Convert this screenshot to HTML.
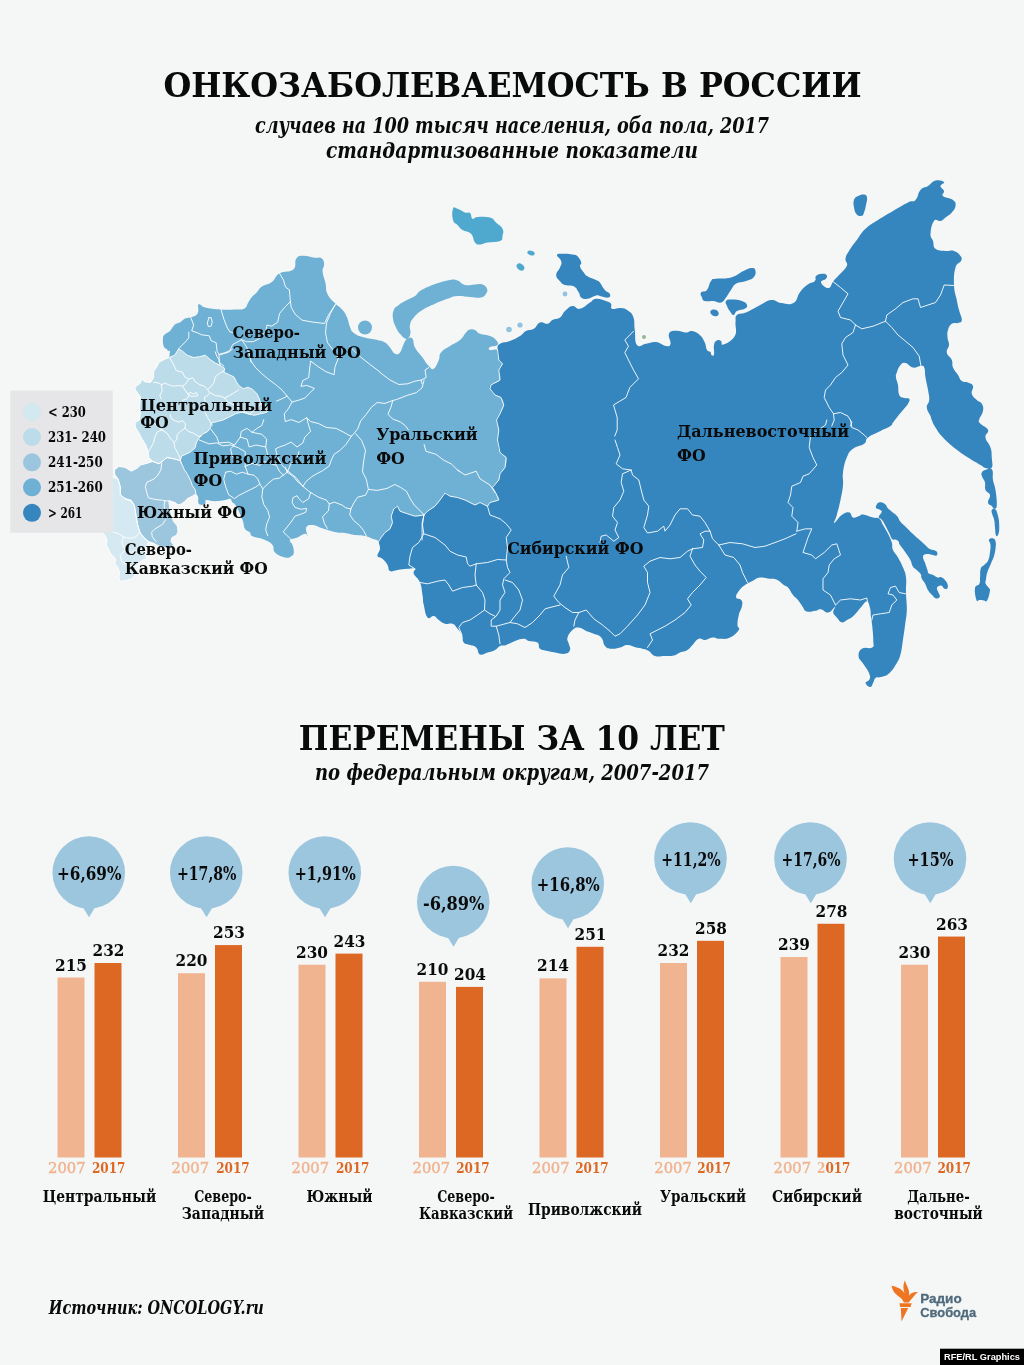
<!DOCTYPE html>
<html lang="ru"><head><meta charset="utf-8"><title>Онкозаболеваемость в России</title>
<style>html,body{margin:0;padding:0;background:#f5f7f7}svg{display:block}text{font-family:'DejaVu Serif Condensed','DejaVu Serif','Liberation Serif',serif}.b{font-weight:bold}.i{font-style:italic;font-weight:bold}.lab{font-weight:bold;font-size:17.5px;fill:#0a0a0a}.val{font-weight:bold;font-size:17px;fill:#0a0a0a;text-anchor:middle}.pct{font-weight:bold;font-size:19px;fill:#0a0a0a;text-anchor:middle}.yr{font-size:14px;text-anchor:middle}.dl{font-weight:bold;font-size:16px;fill:#0a0a0a;text-anchor:middle}.lg{font-weight:bold;font-size:14px;fill:#0a0a0a}.sans{font-family:'Liberation Sans',sans-serif;font-weight:bold}.t{font-family:'DejaVu Serif','Liberation Serif',serif;font-weight:bold}</style></head><body>
<svg width="1024" height="1365" viewBox="0 0 1024 1365">
<rect width="1024" height="1365" fill="#f5f7f7"/>
<text class="t" x="512.5" y="97" font-size="33.5" text-anchor="middle" fill="#0a0a0a" textLength="698" lengthAdjust="spacingAndGlyphs">ОНКОЗАБОЛЕВАЕМОСТЬ В РОССИИ</text>
<text class="i" x="512" y="132.5" font-size="22.5" text-anchor="middle" fill="#0a0a0a" textLength="514" lengthAdjust="spacingAndGlyphs">случаев на 100 тысяч населения, оба пола, 2017</text>
<text class="i" x="512" y="158" font-size="22.5" text-anchor="middle" fill="#0a0a0a" textLength="372" lengthAdjust="spacingAndGlyphs">стандартизованные показатели</text>
<g stroke-linejoin="round">
<path fill="#6fb1d4" d="M169.2,357.5 C171,345.9 169,353 167.7,350.5 C166.4,348 164.8,349.3 163.8,346.6 C162.7,343.9 162.8,341.5 163,338.8 C163.2,336 162.9,336.6 164.5,334.8 C166.1,333 167.6,333.4 170,331 C172.4,328.6 172.3,326.7 174.7,324.7 C177.1,322.7 177.8,323.7 180.2,322.3 C182.6,320.9 182.6,319.7 185,318.5 C187.4,317.3 187.8,318.5 190.7,317.3 C193.6,316.1 195.8,316.3 197.6,313.4 C199.3,310.5 197.5,307 198.2,305 C198.9,303 198.8,304.2 200.5,304.8 C202.2,305.4 200.6,306.4 205.4,307.5 C210.2,308.6 213.9,309 221,309.5 C228.1,310 230.5,309.7 236,309.5 C241.5,309.3 241.7,310 244.5,308.5 C247.3,307 246.4,305.5 248,303 C249.6,300.5 249.2,300.3 251.3,297.7 C253.4,295.1 254.6,294.5 257.1,291.9 C259.6,289.3 258.6,288.8 262,286.5 C265.4,284.2 267.7,285.2 271.8,282.1 C275.9,279 274.6,276.3 279.6,273.3 C284.6,270.3 289.4,272.8 293.3,269.4 C297.2,266 293.9,261.9 296.2,258.7 C298.5,255.5 298.7,255.9 303,255.7 C307.3,255.5 310.5,257.1 314.8,257.7 C319.1,258.3 319.4,256.6 321.6,258.2 C323.8,259.8 323.9,261.4 324.1,264.5 C324.3,267.6 322.3,267.1 322.6,271.4 C322.9,275.7 324.4,277.8 325.5,283.1 C326.6,288.4 325.2,289.2 327.5,294 C329.8,298.8 331.9,300 335.3,303.6 C338.7,307.2 339.4,306.3 342.1,309.5 C344.8,312.7 345.2,313.2 347,317.3 C348.8,321.4 348.4,323.4 350,327 C351.6,330.6 350.6,330.5 353.8,332.9 C357,335.3 358.1,335.6 363.6,337.3 C369.1,339 372.5,338.8 377.5,340 C382.5,341.2 382.1,340.8 385,342.5 C387.9,344.2 387.7,344.9 390,347.5 C392.3,350.1 392.7,352.6 395,353.8 C397.3,354.9 398,354.8 400,352.5 C402,350.2 402,347 403.8,343.8 C405.5,340.5 405.5,339.9 407.5,338.8 C409.5,337.6 410.8,336.7 412.5,338.8 C414.2,340.8 412.7,343.1 415,347.5 C417.3,351.9 419.3,353.2 422.5,357.5 C425.7,361.8 426.1,363.4 428.8,366 C431.4,368.6 431.4,370.1 433.8,368.8 C436.1,367.4 437.1,363.8 438.8,360 C440.4,356.2 438.4,355.8 441,352.5 C443.6,349.2 445.6,348.9 450,346 C454.4,343.1 456.3,343.1 460,340 C463.7,336.9 463.7,334.9 466,332.5 C468.3,330.1 467.9,330.1 470,329.5 C472.1,328.9 472.7,329 475,330 C477.3,331 476.5,332.4 480,333.8 C483.5,335.1 486.3,334.5 490,336 C493.7,337.5 494.2,337.9 496,340 C497.8,342.1 498.9,343.4 497.5,345 C496.1,346.6 491.8,345.8 490,347 C488.2,348.2 488.2,349.4 490,350 C491.8,350.6 493.8,349 497.5,349.5 C501.2,350 501.9,335.6 506,352 C510.1,368.4 512.9,386.6 515,420 C517.1,453.4 530.2,472.8 515,495 C499.8,517.2 474.5,506.8 450,515 C425.5,523.2 422.8,523 410,530 C397.2,537 401.3,541.3 395,545 C388.7,548.7 386.8,546.9 383,546 C379.2,545.1 381.2,542.9 378.8,541.2 C376.3,539.6 375.7,540 372.5,538.8 C369.3,537.5 369.1,536.9 365,536 C360.9,535.1 359.7,535.7 355,535 C350.3,534.3 349.1,533.6 345,533 C340.9,532.4 341.6,533.2 337.5,532.5 C333.4,531.8 331.6,531.2 327.5,530 C323.4,528.8 323.5,528.7 320,527.5 C316.5,526.3 315.7,525 312.5,525 C309.3,525 307.4,524.9 306.2,527.5 C305.1,530.1 307.8,534.8 307.5,536.2 C307.2,537.7 307.3,533.5 305,533.8 C302.7,534 301,536 297.5,537.5 C294,539 291.2,538.2 290,540 C288.8,541.8 291.6,542.1 292.5,545 C293.4,547.9 294,549.9 293.8,552.5 C293.5,555.1 293.3,555.1 291.2,556.2 C289.2,557.4 288.8,558.4 285,557.5 C281.2,556.6 277.9,555.4 275,552.5 C272.1,549.6 274.8,547.9 272.5,545 C270.2,542.1 269.7,542 265,540 C260.3,538 256,538 252.5,536.2 C249,534.5 251.8,534.2 250,532.5 C248.2,530.8 246.8,531.7 245,528.8 C243.2,525.8 244.5,525.2 242.5,520 C240.5,514.8 238.6,510.3 236.2,506.2 C233.9,502.2 234,504.2 232.5,502.5 C231,500.8 231.8,499.3 230,498.8 C228.2,498.2 228.5,499.4 225,500 C221.5,500.6 219.4,501.2 215,501.2 C210.6,501.2 208.6,499.4 206.2,500 C203.9,500.6 206.8,502.9 205,503.8 C203.2,504.6 200.8,506 198.8,503.8 C196.7,501.5 200.4,497.2 196,494 C191.6,490.8 186.5,495.6 180,490 C173.5,484.4 172.7,481.7 168,470 C163.3,458.3 161.9,456.3 160,440 C158.1,423.7 157.9,419.2 160,400 C162.1,380.8 167.4,369.1 169.2,357.5Z"/>
<path fill="#3585be" d="M497.5,349.5 C497.8,345.7 497.1,345.7 500,343.8 C502.9,341.8 505.3,342.8 510,341 C514.7,339.2 516.3,338.3 520,336 C523.7,333.7 522.8,332.7 526,331 C529.2,329.3 530.5,330.7 533.8,328.8 C537,326.8 536.8,323.7 540,322.5 C543.2,321.3 544.6,324.3 547.5,323.8 C550.4,323.2 549.6,321.5 552.5,320 C555.4,318.5 557.1,319.6 560,317.5 C562.9,315.4 562.1,313.7 565,311 C567.9,308.3 569,306.5 572.5,306 C576,305.5 575.9,309.6 580,308.8 C584.1,307.9 586.3,304.8 590,302.5 C593.7,300.2 592.3,299.1 596,298.8 C599.7,298.4 602.5,299.8 606,301 C609.5,302.2 609.6,301.9 611,303.8 C612.4,305.6 609.7,307.8 612,308.8 C614.3,309.7 617.1,307.5 621,308 C624.9,308.5 625.6,308.8 628.5,311 C631.4,313.2 632,313.1 633.5,317.5 C635,321.9 633.9,323.6 634.8,330 C635.6,336.4 634.4,341.8 637,345 C639.6,348.2 641.6,344.4 646,343.8 C650.4,343.1 651.3,341.5 656,342 C660.7,342.5 662.6,345.6 666,346 C669.4,346.4 669.8,346.6 670.5,343.8 C671.2,340.9 667.7,336.8 669,333.8 C670.3,330.7 672,331 676,330.8 C680,330.5 682.3,332.4 686,332.5 C689.7,332.6 688.8,330.4 692,331 C695.2,331.6 696.8,332.3 699.8,335 C702.7,337.7 703.1,339 704.8,342.5 C706.4,346 705.7,347.8 707,350 C708.3,352.2 709.5,350.8 710.5,352 C711.5,353.2 710.7,354.4 711.5,355 C712.3,355.6 713.4,356.8 714,354.5 C714.6,352.2 713.3,348.3 714,345 C714.7,341.7 715.4,341.4 717,340.5 C718.6,339.6 719.5,340.1 721,341 C722.5,341.9 720.3,345.7 723.5,344.5 C726.7,343.3 732,341.1 734.8,336 C737.5,330.9 735,327.4 735.5,322.5 C736,317.6 734.5,317.3 737,315 C739.5,312.7 741,314.6 746,312.5 C751,310.4 752.7,308.9 758.5,306 C764.3,303.1 765.8,300.7 771,300 C776.2,299.3 775.8,302.3 781,303 C786.2,303.7 789.1,305.4 793.5,303 C797.9,300.6 796.6,296.7 799.8,292.5 C802.9,288.3 803.5,287.7 807,285 C810.5,282.3 812.6,283.1 814.8,281 C816.9,278.9 814.3,277.7 816,276 C817.7,274.3 819.5,274 822,273.8 C824.5,273.5 825.6,273.8 826.5,275 C827.4,276.2 827.3,277 826,278.8 C824.7,280.5 820.4,280.3 821,282.5 C821.6,284.7 825.6,288.4 828.5,288 C831.4,287.6 831,284 833.5,281 C836,278 835.9,278.5 839,275 C842.1,271.5 845.2,269.8 846.8,266 C848.3,262.2 845,262.2 845.5,258.8 C846,255.2 846.4,255.4 849,251 C851.6,246.6 852.9,245.2 856.8,240 C860.6,234.8 860.5,233.4 865.5,228.8 C870.5,224.1 871.6,224.1 878,220 C884.4,215.9 886,215.1 893,211 C900,206.9 902.8,205.1 908,202.5 C913.2,199.9 912.6,202.9 915.5,200 C918.4,197.1 917.6,193.3 920.5,190 C923.4,186.7 924.5,188.2 928,186 C931.5,183.8 931.8,181.4 935.5,180.5 C939.2,179.6 942.8,180.7 944,182 C945.2,183.3 940.5,183.9 940.5,186 C940.5,188.1 943.4,188.7 944,191 C944.6,193.3 940.9,193.9 943,196 C945.1,198.1 950.1,197.7 953,200 C955.9,202.3 955.8,203.1 955.5,206 C955.2,208.9 954.1,209.8 951.8,212.5 C949.4,215.2 948.1,215.5 945.5,217.5 C942.9,219.5 943.2,220.2 940.5,221 C937.8,221.8 936.3,218 934,221 C931.7,224 930.7,229.1 930.5,233.8 C930.3,238.4 931.8,237.5 933,241 C934.2,244.5 932.6,246.4 935.5,248.8 C938.4,251.1 941.2,250.5 945.5,251 C949.8,251.5 950.5,249.8 954,251 C957.5,252.2 958.9,253.7 960.5,256 C962.1,258.3 962.2,258.3 961,261 C959.8,263.7 957.1,261.9 955.5,267.5 C953.9,273.1 953.7,277.4 954,285 C954.3,292.6 955.6,294.2 956.8,300 C957.9,305.8 957.8,305.3 959,310 C960.2,314.7 962,317 961.8,320 C961.5,323 960.3,322.1 958,323 C955.7,323.9 954.1,322.1 951.8,323.8 C949.4,325.4 949,326.8 948,330 C947,333.2 947.3,334 947.5,337.5 C947.7,341 949.2,341.5 949,345 C948.8,348.5 946.1,349 946.8,352.5 C947.4,356 950.3,356.5 951.8,360 C953.2,363.5 951.5,364 953,367.5 C954.5,371 956,371.9 958,375 C960,378.1 959.4,379.2 961.8,381 C964.1,382.8 965.4,381.3 968,382.5 C970.6,383.7 972.1,383.4 973,386 C973.9,388.6 970.9,390.5 971.8,393.8 C972.6,397 974.4,397.7 976.8,400 C979.1,402.3 980.3,401.2 981.8,403.8 C983.2,406.3 983.6,407.2 983,411 C982.4,414.8 979.6,417 979,420 C978.4,423 978.4,421.4 980.5,423.8 C982.6,426.1 986.8,426.8 988,430 C989.2,433.2 984.9,433.4 985.5,437.5 C986.1,441.6 989,442.8 990.5,447.5 C992,452.2 991.5,452.8 991.8,457.5 C992,462.2 993.2,465.1 991.8,467.5 C990.3,469.9 988.1,468.6 985.5,468 C982.9,467.4 984.6,467.4 980.5,465 C976.4,462.6 973.8,461.3 968,457.5 C962.2,453.7 961.3,453.4 955.5,448.8 C949.7,444.1 947.7,442.5 943,437.5 C938.3,432.5 938.1,431.6 935.5,427.5 C932.9,423.4 932.9,422.7 931.8,420 C930.6,417.3 931.7,418.9 930.5,416 C929.3,413.1 927,411.2 926.8,407.5 C926.5,403.8 929,404.1 929.2,400 C929.5,395.9 928.9,395.2 928,390 C927.1,384.8 926.4,382.8 925.5,377.5 C924.6,372.2 925.4,370.2 924.2,367.5 C923.1,364.8 923.1,366 920.5,366 C917.9,366 916.5,368.2 913,367.5 C909.5,366.8 908.4,363.6 905.5,363 C902.6,362.4 902.5,362.8 900.5,365 C898.5,367.2 897.8,369.6 896.8,372.5 C895.7,375.4 895.7,374.6 896,377.5 C896.3,380.4 897.2,380.9 898,385 C898.8,389.1 897.8,392 899.2,395 C900.7,398 901.9,397.1 904.2,398 C906.6,398.9 908.4,397.4 909.2,398.8 C910.1,400.1 909.5,401.1 908,403.8 C906.5,406.4 905.3,407.1 903,410 C900.7,412.9 900.3,413.1 898,416 C895.7,418.9 894.8,420.2 893,422.5 C891.2,424.8 893.4,424 890.5,426 C887.6,428 885.8,428.3 880.5,431 C875.2,433.7 871.8,434.5 868,437.5 C864.2,440.5 867.8,441.1 864.2,443.8 C860.8,446.4 857.1,445.5 853,448.8 C848.9,452 849.1,452 846.8,457.5 C844.4,463 843.9,466.1 843,472.5 C842.1,478.9 843.6,478.6 843,485 C842.4,491.4 842,493 840.5,500 C839,507 838.2,509.6 836.8,515 C835.3,520.4 833.1,523 834.2,523 C835.4,523 838.2,517.5 841.8,515 C845.2,512.5 846.6,511.9 849.2,512.5 C851.9,513.1 850.7,516.7 853,517.5 C855.3,518.3 856.9,516.7 859.2,516 C861.6,515.3 859.8,514.1 863,514.5 C866.2,514.9 869.2,516.5 873,517.5 C876.8,518.5 876.9,517 879.2,518.8 C881.6,520.5 881,521.5 883,525 C885,528.5 886,529.7 888,533.8 C890,537.8 890.6,538.7 891.8,542.5 C892.9,546.3 891.5,546.5 893,550 C894.5,553.5 895.7,553.4 898,557.5 C900.3,561.6 901.1,562.8 903,567.5 C904.9,572.2 905.3,571.6 906,577.5 C906.7,583.4 905.8,585.1 906,592.8 C906.2,600.5 907,602.6 906.8,610.3 C906.5,618 905.9,618.4 905,625.6 C904.1,632.8 903.8,634.4 902.8,641 C901.8,647.6 902.1,648.6 900.6,654 C899.1,659.4 899,659.4 896.2,664 C893.5,668.6 892.2,670.7 888.6,673.8 C885,676.8 884.1,676 881,677 C877.9,678 877.3,676.7 875.5,678 C873.7,679.3 874.5,680.4 873.3,682.5 C872.1,684.6 872.2,686.9 870.4,687 C868.6,687.1 865.8,684.8 865.6,683 C865.4,681.2 868.8,681.6 869.6,679.2 C870.4,676.8 870.3,676.2 868.9,672.7 C867.5,669.2 865.8,667.8 863.4,664 C861,660.2 858.9,659.8 858.6,656.2 C858.3,652.7 859.1,650.6 862.3,648.6 C865.5,646.6 869.6,649.3 872.2,647.5 C874.8,645.7 873.3,646.1 873.3,641 C873.3,635.9 872.7,631.2 872.2,625.6 C871.7,620 871.5,621.1 871,617 C870.5,612.9 871,611.6 870,608 C869,604.4 868.7,601.8 866.7,601.6 C864.7,601.4 864.3,603.7 861.2,607 C858.2,610.3 856.9,612.8 853.6,615.8 C850.3,618.8 849.8,618.5 847,620 C844.2,621.5 843.9,622.8 841.6,622.3 C839.3,621.8 839.1,620.3 837.2,618 C835.3,615.7 833.8,615.1 833.2,612.5 C832.7,609.9 836.1,607 835,607 C833.9,607 831.7,612 828.4,612.5 C825.1,613 823.9,609.6 820.8,609.2 C817.7,608.8 818.6,610.2 815.3,610.8 C812,611.3 809.7,612.5 806.6,611.4 C803.5,610.3 804.2,608.7 802.2,606 C800.2,603.3 800.1,602.6 798,600 C795.9,597.4 795.3,597.9 793,595 C790.7,592.1 790.2,589.8 788,587.5 C785.8,585.2 786.2,586.8 783.8,585 C781.3,583.2 780.7,581.5 777.5,580 C774.3,578.5 774.1,579.3 770,578.8 C765.9,578.2 764.1,577 760,577.5 C755.9,578 756,579.2 752.5,581 C749,582.8 748.2,582.7 745,585 C741.8,587.3 740.8,588.1 738.8,591 C736.7,593.9 735.7,595.4 736.2,597.5 C736.8,599.6 739.9,598 741.2,600 C742.6,602 742.6,602.5 742,606 C741.4,609.5 739.8,610.6 738.8,615 C737.7,619.4 737.5,621.5 737.5,625 C737.5,628.5 740.5,627.1 738.8,630 C737,632.9 734.4,635.5 730,637.5 C725.6,639.5 724.1,638.8 720,638.8 C715.9,638.8 716,637.2 712.5,637.5 C709,637.8 708.2,639.7 705,640 C701.8,640.3 701.7,637.6 698.8,638.8 C695.8,639.9 695.1,642.4 692.5,645 C689.9,647.6 690.4,648.2 687.5,650 C684.6,651.8 683.2,651.2 680,652.5 C676.8,653.8 677.2,654.7 673.8,655.5 C670.2,656.3 669.4,655.9 665,656 C660.6,656.1 658.8,657.2 655,656 C651.2,654.8 651.7,652.7 648.8,651 C645.8,649.3 645.4,649.6 642.5,648.8 C639.6,647.9 639.8,648.4 636.2,647.5 C632.8,646.6 631.3,645 627.5,645 C623.7,645 623.8,646.6 620,647.5 C616.2,648.4 614.8,649.1 611.2,648.8 C607.8,648.4 607.3,648.6 605,646 C602.7,643.4 603.9,640.4 601.2,637.5 C598.6,634.6 597.2,635.3 593.8,633.8 C590.2,632.2 589.8,632.5 586.2,631 C582.8,629.5 582,627.7 578.8,627.5 C575.5,627.3 575.1,627.7 572.5,630 C569.9,632.3 568.4,634.3 567.5,637.5 C566.6,640.7 568.2,640.8 568.8,643.8 C569.3,646.7 570.9,647.7 570,650 C569.1,652.3 568.5,653.2 565,653.8 C561.5,654.3 559.1,653.1 555,652.5 C550.9,651.9 551,651.9 547.5,651 C544,650.1 542.3,650.7 540,648.8 C537.7,646.8 540.1,644.3 537.5,642.5 C534.9,640.7 532,641.9 528.8,641 C525.5,640.1 527,638.8 523.8,638.8 C520.5,638.8 519.1,639.5 515,641 C510.9,642.5 509.8,643.8 506.2,645 C502.8,646.2 502.6,644.8 500,646 C497.4,647.2 497.9,648.5 495,650 C492.1,651.5 491,651.5 487.5,652.5 C484,653.5 482.6,655.7 480,654.5 C477.4,653.3 478.6,649.7 476.2,647.5 C473.9,645.3 472.9,646.2 470,645 C467.1,643.8 465.6,644.8 463.8,642.5 C461.9,640.2 463.5,638.2 462,635 C460.5,631.8 459.7,631.4 457.5,628.8 C455.3,626.1 455.4,624.9 452.5,623.8 C449.6,622.6 448.2,624.6 445,623.8 C441.8,622.9 441.4,621.8 438.8,620 C436.1,618.2 436.4,616.6 433.8,616 C431.1,615.4 429.8,620.1 427.5,617.5 C425.2,614.9 424.9,610.2 423.8,605 C422.6,599.8 423.4,600.2 422.5,595 C421.6,589.8 422,587.5 420,582.5 C418,577.5 414.9,577 413.8,573.8 C412.6,570.5 416.5,569.9 415,568.8 C413.5,567.6 411.6,568.5 407.5,568.8 C403.4,569 401.6,569.5 397.5,570 C393.4,570.5 392.3,572.2 390,571 C387.7,569.8 389.2,567.9 387.5,565 C385.8,562.1 384.8,560.9 382.5,558.8 C380.2,556.6 378.1,558.3 377.5,556 C376.9,553.7 379.7,552.2 380,548.8 C380.3,545.3 378.5,543.9 378.8,541.2 C379,538.6 379.8,539.5 381.2,537.5 C382.7,535.5 383,534.5 385,532.5 C387,530.5 388.2,531.1 390,528.8 C391.8,526.4 392.2,525.4 392.5,522.5 C392.8,519.6 391,519.5 391.2,516.2 C391.5,513 392.3,511.1 393.8,508.8 C395.2,506.4 396,505.7 397.5,506.2 C399,506.8 397.7,509.5 400,511.2 C402.3,513 404,512.6 407.5,513.8 C411,514.9 411.2,516 415,516.2 C418.8,516.5 420.8,516.2 423.8,515 C426.7,513.8 424.9,513.3 427.5,511.2 C430.1,509.2 432.1,508.9 435,506.2 C437.9,503.6 437.7,503.1 440,500 C442.3,496.9 442.7,493.9 445,493 C447.3,492.1 447.1,495.2 450,496.2 C452.9,497.3 454,496.6 457.5,497.5 C461,498.4 460.9,498.2 465,500 C469.1,501.8 471.5,504.4 475,505 C478.5,505.6 477.1,502.2 480,502.5 C482.9,502.8 485.2,506.2 487.5,506.2 C489.8,506.2 487.4,504 490,502.5 C492.6,501 497.3,502 498.8,500 C500.2,498 497.7,496.7 496.2,493.8 C494.8,490.8 491.9,490.7 492.5,487.5 C493.1,484.3 497,483.2 498.8,480 C500.5,476.8 498.5,476.7 500,473.8 C501.5,470.8 503.5,471.3 505,467.5 C506.5,463.7 507.4,461 506.2,457.5 C505.1,454 502,456.6 500,452.5 C498,448.4 497.8,445.2 497.5,440 C497.2,434.8 499,434.7 498.8,430 C498.5,425.3 496.2,423.8 496.5,420 C496.8,416.2 498.3,417.2 500,413.8 C501.7,410.2 503.5,408.8 503.8,405 C504,401.2 503,399.8 501,397.5 C499,395.2 497.6,397 495,395 C492.4,393 490.9,391.1 490,388.8 C489.1,386.4 488.7,387 491,385 C493.3,383 498.2,383.5 500,380 C501.8,376.5 498.2,373.8 498.8,370 C499.3,366.2 502.5,366.1 502.5,363.8 C502.5,361.4 499.9,363.3 498.8,360 C497.6,356.7 497.2,353.3 497.5,349.5Z"/>
<path fill="#d4e9f1" d="M100,470 L113.3,477.5 L118,479 L120.3,486.9 L120.3,494.7 L125,498.6 L131.2,501 L134.4,505.6 L136.7,519.7 L137.5,524.4 L139.8,532.2 L143.8,537.6 L148.4,541.5 L146.9,546.2 L143.8,549.4 L145.3,554 L146.9,558.8 L142.2,560.3 L138.3,563.4 L136,566.5 L135.2,571.2 L134.4,576 L131.2,579 L125.8,580.6 L120.3,581.4 L118.8,577.5 L119.5,572.8 L118,568 L114.8,563.4 L115.6,558.8 L111,554 L108.6,549.4 L106.2,544.7 L107,540 L104.7,535.3 L103,533 L100,530Z"/>
<path fill="#9cc6de" d="M114.8,469.7 L118.8,466.5 L125,467.3 L131.2,471.2 L137.5,468 L140.6,465 L146.9,463.4 L152.8,461.4 L159,463.8 L162.2,461.4 L166.9,457.5 L174.7,459 L180.2,460.6 L184.4,469.7 L187.5,474.4 L190.6,480.6 L192.2,485.3 L195.3,490 L196,494 L192.2,496.2 L187.5,498.6 L184.4,501.7 L181.2,504 L178,505 L175,502.5 L168.8,501 L170,510 L173.4,521.2 L177.3,526 L178,531.4 L176.5,535.3 L171.9,537.6 L171,541.5 L173.4,544.7 L171.9,547.8 L165.6,547.8 L159.4,546.2 L156.2,544.7 L153,543 L148.4,541.5 L143.8,537.6 L139.8,532.2 L137.5,524.4 L136.7,519.7 L134.4,505.6 L131.2,501 L125,498.6 L120.3,494.7 L120.3,486.9 L118,479 L114.8,474.4Z"/>
<path fill="#bddcea" d="M169.2,357.5 L174.7,355.2 L178.6,348.9 L182.5,351.2 L187.2,355.2 L193.4,357.5 L199.7,356.7 L205.2,355.2 L210.6,359.8 L215.3,363 L220,365.3 L224.7,368.4 L223.9,372.3 L229.4,374.7 L234,377 L236.4,381.7 L238.8,385.6 L243.4,388.8 L248,387.2 L252.8,389.5 L256.7,393.4 L259,398 L260.6,402.8 L266,405.2 L270,409 L266.9,412.2 L260.6,413.8 L254.4,415.3 L248,413.8 L241.9,412.2 L235.6,413.8 L229.4,416.9 L223,420 L216.9,421.6 L211.4,423 L210.6,427.8 L207.5,431.7 L202.8,434 L199.7,437.2 L196.6,441.9 L195,448 L190.3,452 L185.6,454.4 L181.7,456 L180.2,460.6 L174.7,459 L166.9,457.5 L162.2,461.4 L159,463.8 L152.8,461.4 L148.9,457.5 L148,451.2 L145.8,445 L141.9,438.8 L138.8,432.5 L135.6,427.8 L134.8,423 L139.5,420 L140.3,413.8 L139.5,409 L140.3,396.5 L135.6,390.3 L134.8,387.2 L140.3,383.3 L141.9,378.6 L144.2,381.7 L150.5,382.5 L153.6,377.8 L153.6,371.6 L156.7,366.9 L159,362.2 L165.3,359Z"/>
<path fill="#4fa8ce" d="M453,208.8 C454.1,206.1 454.7,207.9 457.5,208.8 C460.3,209.6 462.1,211.5 465,212.5 C467.9,213.5 468.2,211.5 470,213 C471.8,214.5 470.8,217.8 472.5,218.8 C474.2,219.7 473.4,217.3 477.5,217 C481.6,216.7 485.7,216.2 490,217.5 C494.3,218.8 493.1,219.9 496,222.5 C498.9,225.1 501,225.6 502.5,228.8 C504,231.9 503.1,233.1 502.5,236 C501.9,238.9 503.5,239.5 500,241 C496.5,242.5 492.2,241.7 487.5,242.5 C482.8,243.3 482.9,244.5 480,244.5 C477.1,244.5 477.1,245 475,242.5 C472.9,240 473.9,236.7 471,233.8 C468.1,230.8 465.6,232 462.5,230 C459.4,228 459.7,227.3 457.5,225 C455.3,222.7 454.1,223.8 453,220 C451.9,216.2 451.9,211.4 453,208.8Z"/>
<path fill="#6fb1d4" d="M393.8,310 C395.1,306.8 396.1,307.1 398.8,305 C401.4,302.9 401.2,303.1 405,301 C408.8,298.9 411.5,298.3 415,296 C418.5,293.7 416.5,293.3 420,291 C423.5,288.7 425.3,288 430,286 C434.7,284 435.3,283.9 440,282.5 C444.7,281.1 445.9,280.5 450,280 C454.1,279.5 454,279.3 457.5,280.5 C461,281.7 460.9,284.1 465,285 C469.1,285.9 470.9,284.6 475,284.5 C479.1,284.4 479.7,283.5 482.5,284.5 C485.3,285.5 486.2,286.6 487,288.8 C487.8,290.9 487.4,291.7 486,293.8 C484.6,295.8 484.7,296.7 481,297.5 C477.3,298.3 475.5,297.4 470,297 C464.5,296.6 462.8,295.6 457.5,296 C452.2,296.4 452.8,296.9 447.5,298.8 C442.2,300.6 440.8,301.1 435,303.8 C429.2,306.4 427.5,306.8 422.5,310 C417.5,313.2 416.7,314 413.8,317.5 C410.8,321 410.8,321.5 410,325 C409.2,328.5 410.8,329.6 410.5,332.5 C410.2,335.4 409.9,336 408.8,337.5 C407.6,339 407.5,339.6 405.5,338.8 C403.5,337.9 402.2,336.4 400,333.8 C397.8,331.1 397.6,331 396,327.5 C394.4,324 393.5,322.8 393,318.8 C392.5,314.7 392.4,313.2 393.8,310Z"/>
<circle cx="365" cy="327.5" r="7" fill="#6fb1d4"/>
<ellipse cx="531" cy="253" rx="3.8" ry="2.3" fill="#4fa8ce" transform="rotate(15 531 253)"/>
<ellipse cx="520.5" cy="267" rx="4.2" ry="3" fill="#4fa8ce" transform="rotate(35 520.5 267)"/>
<circle cx="565" cy="294" r="2.4" fill="#8fc3de"/><circle cx="509" cy="329.5" r="2.8" fill="#8fc3de"/><circle cx="520" cy="325" r="2.6" fill="#8fc3de"/>
<circle cx="644" cy="337" r="2" fill="#8fb89a"/>
<path fill="#3585be" d="M557,255 C557.6,253.2 560.1,253.9 563.8,253.8 C567.4,253.6 569.3,253.9 572.5,254.5 C575.7,255.1 575.5,254.4 577.5,256.2 C579.5,258.1 580.7,260.2 581.2,262.5 C581.8,264.8 579.4,263.9 580,266.2 C580.6,268.6 582,270.2 583.8,272.5 C585.5,274.8 584.6,274.5 587.5,276.2 C590.4,278 593.1,278.5 596,280 C598.9,281.5 597.7,280.2 599.8,282.5 C601.8,284.8 602.4,287.4 604.8,290 C607.1,292.6 608.9,292 609.8,293.8 C610.6,295.5 610.5,296.9 608.5,297.5 C606.5,298.1 603.9,296.7 601,296.2 C598.1,295.8 599.1,294.9 596,295.5 C592.9,296.1 590.9,298.3 587.5,298.8 C584.1,299.2 583.3,299 581.2,297.5 C579.2,296 580.5,295.1 578.8,292.5 C577,289.9 577,288 573.8,286.2 C570.5,284.5 568.2,286.2 565,285 C561.8,283.8 562,283.6 560,281.2 C558,278.9 556.2,278.2 556.2,275 C556.2,271.8 558.8,270.7 560,267.5 C561.2,264.3 562,264.2 561.2,261.2 C560.5,258.3 556.4,256.8 557,255Z"/>
<path fill="#3585be" d="M701,292.5 C702.2,290.8 704.7,292.7 707,290 C709.3,287.3 708.9,283.6 711,281 C713.1,278.4 711.3,279.6 716,278.8 C720.7,277.9 724.6,279.3 731,277.5 C737.4,275.7 738.6,273.2 743.5,271 C748.4,268.8 749.2,268 752,268 C754.8,268 755.1,268.8 755.5,271 C755.9,273.2 755.7,275.2 753.5,277.5 C751.3,279.8 750.1,279.5 746,281 C741.9,282.5 739.5,281.6 736,283.8 C732.5,285.9 733.3,286.8 731,290 C728.7,293.2 728.3,294.6 726,297.5 C723.7,300.4 723.9,301.7 721,302.5 C718.1,303.3 717.3,301.4 713.5,301 C709.7,300.6 707.4,301.8 704.8,301 C702.1,300.2 702.9,299.5 702,297.5 C701.1,295.5 699.8,294.2 701,292.5Z"/>
<path fill="#3585be" d="M726,301 C727.2,299.5 728.3,299.5 732,299.5 C735.7,299.5 738.5,299.7 742,301 C745.5,302.3 746.4,303.2 747,305 C747.6,306.8 747.1,307.4 744.8,308.8 C742.4,310.1 739.6,309.5 737,311 C734.4,312.5 735.2,315 733.5,315 C731.8,315 731.3,313.1 729.8,311 C728.2,308.9 727.9,308.3 727,306 C726.1,303.7 724.8,302.5 726,301Z"/>
<path fill="#3585be" d="M710.5,311 C711.1,309.7 712.9,309.1 714.8,309.5 C716.6,309.9 718,311 718.5,312.5 C719,314 718.5,315.4 717,316 C715.5,316.6 713.5,316.2 712,315 C710.5,313.8 709.9,312.3 710.5,311Z"/>
<path fill="#3585be" d="M854,200 C854.9,197.3 855.7,197.3 858,196 C860.3,194.7 861.9,194.2 864,194.5 C866.1,194.8 866.5,195.1 867,197.5 C867.5,199.9 866.7,201.5 866,205 C865.3,208.5 865,210 864,212.5 C863,215 863.4,215.3 861.8,215.8 C860.1,216.2 858.6,216.4 856.8,214.5 C854.9,212.6 854.6,210.9 854,207.5 C853.4,204.1 853.1,202.7 854,200Z"/>
<path fill="#3585be" d="M876.1,506.1 C876.7,504.7 876.9,503 879,502.5 C881.1,502 882.8,502.5 884.9,503.9 C887,505.3 886.1,506.4 887.8,508.3 C889.5,510.2 890,510.1 892.2,512 C894.4,513.9 895.5,514.2 897.4,516.4 C899.3,518.6 898.4,519.1 900.3,521.5 C902.2,523.9 902.8,524 905.4,526.6 C908,529.2 908.2,529.6 911.3,532.5 C914.4,535.4 915.2,536 918.6,539.1 C922,542.2 923.2,543.3 925.9,545.7 C928.6,548.1 928.1,548.1 930.3,549.3 C932.5,550.5 933.8,549.9 935.4,550.8 C937,551.7 937.1,551.9 937.3,553 C937.5,554.1 937.5,555.2 936.2,555.6 C934.9,556 934,555.1 931.8,554.7 C929.6,554.3 928.7,553.6 926.6,554 C924.5,554.4 923.3,554.5 923,556.6 C922.7,558.7 924.2,560.1 925.2,563.2 C926.2,566.3 926.6,567.4 927.4,569.8 C928.2,572.2 927.4,572.3 928.8,573.5 C930.2,574.7 931.1,574 933.2,575 C935.3,576 935.7,577.1 937.6,577.6 C939.5,578.1 939.6,576.6 941.3,577.2 C943,577.8 943.5,578.4 945,580.1 C946.5,581.8 947.1,582.6 947.6,584.5 C948.1,586.4 948,587.5 947.2,588.4 C946.4,589.3 945.4,589 944.2,588.4 C943,587.8 943.2,586.5 942,585.9 C940.8,585.3 940.3,585.4 939.1,585.9 C937.9,586.4 937.1,586.6 936.9,588.1 C936.7,589.6 937.7,590.5 938.4,592.5 C939.1,594.5 940.3,595.2 939.8,596.6 C939.3,598 938.1,598.8 936.2,598.4 C934.3,598 933.7,596.6 931.8,594.7 C929.9,592.8 929.6,592.9 928.1,590.3 C926.6,587.7 926.7,586.6 925.2,583.7 C923.7,580.8 922.5,580.1 921.5,577.9 C920.5,575.7 922,576.1 920.8,574.2 C919.6,572.3 918.3,571.7 916.4,569.8 C914.5,567.9 914.1,568.4 912.7,566.2 C911.3,564 911.9,563 910.5,560.3 C909.1,557.6 908.6,557.1 906.9,554.5 C905.2,551.9 904.9,551.7 903.2,549.3 C901.5,546.9 900.6,546.1 899.5,544.2 C898.4,542.3 899.4,542.4 898.4,541.3 C897.4,540.2 896.6,540 895.2,539.5 C893.8,539 893.6,540.6 892.2,539.1 C890.8,537.6 890.8,536.3 889.3,533.2 C887.8,530.1 887.3,529 885.6,525.9 C883.9,522.8 883.6,522.1 882,520 C880.4,517.9 878.8,519 878.7,517.1 C878.6,515.2 881.4,513.7 881.7,512 C882,510.3 881,510.7 879.8,509.8 C878.6,508.9 877.3,509.2 876.4,508.3 C875.5,507.4 875.5,507.5 876.1,506.1Z"/>
<path fill="#3585be" d="M981.8,472.5 C982.7,470.6 984.3,470.1 986.8,469.5 C989.2,468.9 990.8,467.6 992.2,470 C993.7,472.4 992.2,475.3 993,480 C993.8,484.7 994.6,484.2 995.5,490 C996.4,495.8 997,500.6 996.8,505 C996.5,509.4 995.4,508.5 994.2,508.8 C993.1,509 993.2,507.5 991.8,506 C990.3,504.5 988.4,505.1 988,502.5 C987.6,499.9 990.6,497.9 990,495 C989.4,492.1 986.7,492.9 985.5,490 C984.3,487.1 985.7,485.4 985,482.5 C984.3,479.6 983.3,479.8 982.5,477.5 C981.7,475.2 980.8,474.4 981.8,472.5Z"/>
<path fill="#3585be" d="M991.8,510 C992.5,508.7 994,508.1 995.5,509.5 C997,510.9 997.1,512.4 998,516 C998.9,519.6 999.1,520.9 999.2,525 C999.4,529.1 999.3,531.3 998.5,533.8 C997.7,536.2 996.8,537 996,535.5 C995.2,534 995.4,531.1 995,527.5 C994.6,523.9 994.8,522.9 994.2,520 C993.7,517.1 993.1,517.3 992.5,515 C991.9,512.7 991,511.3 991.8,510Z"/>
<path fill="#3585be" d="M988.9,539.8 C989.4,538.4 991.1,537.9 992.6,538.3 C994.1,538.6 994.8,538.9 995.5,541.3 C996.2,543.7 995.9,545.2 995.5,548.6 C995.1,552 995,552.5 994,555.9 C993,559.3 992.6,559.4 991.1,563.2 C989.6,567 988.6,568.2 987.4,572 C986.2,575.8 986.4,576.6 986,579.3 C985.6,582 985,581.6 985.7,583.7 C986.4,585.8 987.9,586.4 988.9,588.1 C989.9,589.8 990.3,588.2 989.9,591.1 C989.5,594 988.5,598.4 987.1,600.6 C985.7,602.8 985.8,600.6 984,600.5 C982.2,600.4 981.3,600.2 979.5,600.1 C977.7,600 977.4,602.7 976.4,599.9 C975.4,597.1 974.3,591.9 975,588.1 C975.7,584.3 978.2,586.4 979.4,583.7 C980.6,581 979.8,580 980.1,576.4 C980.4,572.8 979.8,571.1 980.8,568.4 C981.8,565.7 982.8,566.6 984.5,564.7 C986.2,562.8 986.9,563.4 988.2,560.3 C989.5,557.2 989.6,555.3 990.1,551.5 C990.6,547.7 990.7,546.9 990.4,544.2 C990.1,541.5 988.4,541.2 988.9,539.8Z"/>
</g>
<g fill="none" stroke="#fff" stroke-width="1" stroke-opacity="0.9" stroke-linejoin="round" stroke-linecap="round">
<path d="M170,358.1 L173.9,365.2 L176.2,370.6 L182.5,372.2 L184.8,376.9 L188.8,379.2 L192.7,377.7 L195,381.6 L199.7,384.7 L204.4,386.2 L207.5,389.4 L209.8,387.8 L213.8,383.1 L215.3,376.9 L220,373 L223.9,370.9"/>
<path d="M188.8,379.2 L185.6,383.9 L182.5,386.2 L178.6,385.5 L173.1,386.2 L168.4,384.7 L165.3,383.1 L161.4,384.7 L159.1,383.1 L153.6,382.3"/>
<path d="M161.4,384.7 L162.2,390.9 L159.8,395.6 L161.4,398.8"/>
<path d="M182.5,386.2 L185.6,390.9 L188.8,395.6 L187.2,398.8 L182.5,400.3"/>
<path d="M188.8,393.3 L191.1,392.5 L193.4,394.1 L196.6,392.5 L197.7,395.6 L193.4,396.4 L189.5,395.9 L188.8,393.3"/>
<path d="M207.5,389.4 L209.8,392.5 L207.5,395.6 L204.4,397.2 L205.2,401.9 L207.5,405"/>
<path d="M209.8,392.5 L215.3,395.6 L221.6,396.4 L224.7,398 L229.4,395.6 L237.2,390.9 L238.8,389.4"/>
<path d="M224.7,398 L227.8,401.9 L232.5,404.2 L238.8,408.1 L243.4,411.2 L249.7,414.4 L252.8,411.2 L257.5,408.1 L260.6,403.4"/>
<path d="M205.2,412.8 L207.5,417.5 L210.6,422.2 L212.2,425.3"/>
<path d="M182.5,420.6 L185.6,423.8 L184.8,428.4 L188.8,431.6 L193.4,433.1 L198.1,436.2 L201.2,436.2"/>
<path d="M182.5,420.6 L179.4,422.2 L174.7,420.6 L171.6,419.1 L170,414.4"/>
<path d="M162.2,430 L166.9,433.1 L170,437.8 L173.9,442.5 L174.7,447.2 L177.8,453.4 L180.2,458.1 L180.9,462.8"/>
<path d="M173.9,442.5 L177,439.4 L177,434.7 L180.2,431.6 L184.8,428.4"/>
<path d="M162.2,430 L157.5,431.6 L155.2,436.2 L153.6,442.5 L151.2,447.2 L148.1,451.9"/>
<path d="M153.6,422.2 L157.5,426.9 L162.2,430"/>
<path d="M178.6,348.8 L181.7,345.6 L185.6,341.7 L188.8,337.8 L188.8,332.3"/>
<path d="M215.3,351.9 L216.9,356.6 L219.2,359.7 L220,365.2"/>
<path d="M219.2,355 L224.7,353.4 L229.4,351.9 L232.5,348.8"/>
<path d="M279.6,273.3 L283.5,280.2 L285.5,287 L289.4,289.9 L290.4,301.6"/>
<path d="M290.4,301.6 L291.3,307.5 L295.2,314.3 L302.1,320.2 L312.8,322.1 L324.5,323.5 L328.4,315.3 L335.3,304.6"/>
<path d="M290.4,301.6 L285.5,306.5 L279.6,313.4 L277.7,322.1 L271.8,326.1 L266.9,325.1 L265.9,330.9 L262,335.8 L259.1,338.8 L253.2,341.7 L246.4,341.7 L241.5,339.7"/>
<path d="M221,309.5 L223.9,319.2 L226.9,327 L229.8,331.9 L233.7,332.9"/>
<path d="M335.3,304.6 L330.4,313.4 L326.5,323.1 L325.5,332.9 L327.5,342.7 L334.3,351.4 L338.2,358.3"/>
<path d="M349.9,346.6 L359.7,356.3 L369.5,364.1 L380,372"/>
<path d="M241.5,339.7 L246.4,346.6 L249.3,354.4 L251.3,362.2"/>
<path d="M190.7,317.3 L193.7,325.1 L191.7,330.9 L197.6,332.9 L201.5,334.8 L209.3,335.8 L211.2,340.7 L216.1,342.7 L217.1,351.4 L219.1,354.4 L225.9,352.4 L229.8,350.5 L232.7,344.6 L241.5,339.7"/>
<path d="M219.1,354.4 L219.1,362.2 L223.9,366.1"/>
<path d="M208.9,317.7 L211.2,317.7 L212.2,322.1 L211.2,326.1 L208.3,326.6 L207.3,323.1 L208.9,317.7"/>
<path d="M424.1,380 L422.1,387.8 L416.2,392.7 L406.5,395.6 L396.7,399.5 L392.8,400.5 L385,403.4 L377.2,402.5 L371.3,407.3 L366.4,414.2 L360.6,421 L357.7,428.8 L353.8,433.7 L351.8,435.7"/>
<path d="M351.8,435.7 L345.9,444.5 L340.1,450.3 L334.2,454.2 L331.3,460.1 L329.3,465.9 L322.5,470.8 L316.6,473.8 L311.8,476.7 L305.9,481.6 L303,486.4"/>
<path d="M355.7,433.7 L361.6,440.5 L365.5,450.3 L363.5,462 L362.5,471.8 L366.4,479.6 L368.4,489.4 L365.5,495.2 L357.7,497.2 L353.8,503 L350.8,508.9"/>
<path d="M368.4,489.4 L377.2,490.4 L387,488.4 L394.8,484.5 L400.6,487.4 L406.5,491.3 L410.4,499.1 L414.3,505 L420.2,510.9 L424.1,514.8"/>
<path d="M392.8,400.5 L390.9,407.3 L387.9,414.2 L392.8,419.1 L400.6,422 L405.5,425.9 L408.4,429.8"/>
<path d="M424.1,444.5 L426,451.3 L435.8,454.2 L443.6,460.1 L451.4,464 L457.3,469.8 L460,471.8"/>
<path d="M303,486.4 L308.8,491.3 L313.7,494.3 L318.6,497.2 L326.4,500.1 L329.3,504 L334.2,502.1 L342,505 L345.9,507.9 L350.8,508.9"/>
<path d="M350.8,508.9 L349.8,514.8 L353.8,520.6 L359.6,525.5 L363.5,530.4 L366.4,536.2"/>
<path d="M329.3,504 L328.4,510.9 L322.5,516.7 L324.5,523.6 L327.4,528.4"/>
<path d="M303,486.4 L299.1,481.6 L296.1,477.7 L291.2,473.8 L286.4,469.8"/>
<path d="M424.1,514.8 L422.1,522.6 L422.1,532.3 L422.1,540"/>
<path d="M225.7,472.2 L223.7,479.1 L225.7,486.9 L228.6,494.7 L234.5,498.6 L238.4,495.7 L244.2,492.7 L250.1,489.8 L255.9,486.9 L259.8,483.9 L257.9,479.1 L254,475.2 L248.1,474.2 L242.3,472.2 L236.4,474.2 L230.5,471.2 L225.7,472.2"/>
<path d="M259.8,483.9 L262.8,488.8 L261.8,496.6 L263.8,504.5 L267.7,510.3 L269.6,517.1 L266.7,524 L265.7,529.8 L267.7,535.7"/>
<path d="M262.8,488.8 L267.7,483.9 L273.5,479.1 L279.4,478.1 L283.3,475.2 L287.2,472.2 L285.2,467.3"/>
<path d="M287.2,472.2 L293,476.1 L297,481 L302.8,485.9"/>
<path d="M310.6,492.7 L308.7,498.6 L302.8,502.5 L298.9,498.6 L297,495.7 L293,497.6 L292.1,502.5 L295,507.4 L300.9,509.3 L306.7,508.4 L305.7,512.3 L300.9,514.2 L295,516.2 L291.1,522 L287.2,526.9 L283.3,531.8 L287.2,535.7 L291.1,539.6"/>
<path d="M245.2,466.4 L248.1,474.2"/>
<path d="M245.2,466.4 L252,463.4 L259.8,465.4 L263.8,461.5 L269.6,463.4 L276.4,465.4 L279.4,471.2 L283.3,475.2"/>
<path d="M298.9,451.7 L297,459.5 L291.1,463.4 L287.2,472.2"/>
<path d="M199.3,440 L209.1,443.9 L216.9,442.9 L222.7,445.9 L230.5,444.9 L238.4,447.8 L245.2,451.7 L245.2,459.5 L245.2,466.4"/>
<path d="M250.1,360 L255.9,367.9 L261.8,373.7 L267.7,378.6 L275.5,384.5 L282.3,390.3 L287.2,396.2 L292.1,402 L288.2,408.9 L284.3,413.8 L285.2,421.6 L291.1,419.6 L298.9,422.5 L306.7,417.7 L310.6,421.6 L318.4,423.5 L326.2,427.4 L336,428.4 L343.8,432.3 L350.7,436.2"/>
<path d="M292.1,402 L298.9,400.1 L304.8,398.1 L309.6,393.2 L314.5,388.4 L306.7,385.4 L300.9,386.4 L302.8,380.5 L308.7,377.6 L309.6,368.8 L310.6,361 L318.4,366.9 L326.2,371.8 L334.1,374.7 L335,366.9 L338,359.1"/>
<path d="M287.2,396.2 L281.3,399.1 L276.4,401.1"/>
<path d="M306.7,417.7 L308.7,425.5 L310.6,431.3 L304.8,437.2 L302.8,443 L297,447 L291.1,442.1 L285.2,445 L279.4,447 L275.5,448.9 L277.4,456.7 L281.3,464.5 L287.2,470.4"/>
<path d="M211,429.4 L216.9,437.2 L218.8,443 L228.6,442.1 L234.5,445 L240.3,437.2 L241.3,431.3 L247.1,428.4 L252,432.3 L256.9,428.4 L261.8,425.5 L263.8,419.6"/>
<path d="M240.3,437.2 L247.1,439.1 L249.1,447 L255.9,445 L265.7,447 L266.7,439.1 L261.8,434.3 L252,432.3"/>
<path d="M234.5,445 L230.5,448.9 L232.5,456.7 L238.4,460.6"/>
<path d="M265.7,447 L267.7,454.8 L271.6,460.6 L276.4,464.5"/>
<path d="M423.8,515 L422.5,525 L423.8,533.8 L418.8,542.5 L412.5,547.5 L410,556.2 L408.8,565 L415,568.8"/>
<path d="M423.8,533.8 L435,537.5 L445,545 L450,551.2 L457.5,555 L466.2,557 L467.5,563.8 L470,566.2 L476.2,563.8 L487.5,562.5 L497.5,559.5 L506.2,560"/>
<path d="M487.5,506.2 L490,515 L500,518.8 L506.2,523.8 L511.2,530 L506.2,537.5 L507.5,547.5 L506.2,560 L507.5,567.5 L510,572.5 L503.8,578.8 L502.5,585 L505,592.5 L500,600 L500,610 L496.2,616.2 L491.2,620 L491.2,626.2 L496.2,626.2 L498.8,635 L500,643.8"/>
<path d="M476.2,563.8 L475,575 L476.2,585 L482.5,592.5 L485,600 L484.5,610 L490,613.8 L495,616.2"/>
<path d="M420,582.5 L427.5,583.8 L437.5,581.2 L445,580 L448.8,585 L452.5,591.2 L462.5,587.5 L472.5,586.2 L476.2,585"/>
<path d="M484.5,610 L477.5,615 L470,620 L462.5,622.5 L458.8,627.5 L462,635"/>
<path d="M505,580 L512.5,582.5 L518.8,590 L522.5,600 L520,610 L513.8,617.5 L510,622.5 L496.2,626.2"/>
<path d="M510,622.5 L517.5,623.8 L525,627.5 L532.5,622.5 L540,615 L545,608.8 L555,606.2 L560,605"/>
<path d="M615,440 L617.5,447.5 L620,455 L616.2,463.8 L622.5,468.8 L631.2,470 L632.5,475 L638.8,480 L641.2,490 L643.8,500 L648.8,506.2 L647.5,515 L643.8,527.5 L647.5,533 L657.5,531.2 L663.8,526.2 L665,531.2 L670,525 L675,515 L680,508.8 L687.5,508.8 L692.5,515 L700,516.2 L705,522.5 L710,531.2 L712.5,538.8 L718.8,545"/>
<path d="M631.2,470 L622.5,473.8 L621.2,482.5 L623.8,491.2 L620,500 L613.8,507.5 L612.5,516.2 L617.5,522.5 L615,530 L618.8,537.5 L613.8,541.2 L606.2,535 L601.2,536.2 L600,542.5"/>
<path d="M566.2,556.2 L568.8,567.5 L562.5,575 L560,585 L553.8,596.2 L558.8,602.5 L565,607.5 L572.5,612.5 L578.8,612.5 L586.2,610 L593.8,618.8 L602.5,625 L610,631.2 L615,636.2 L620,633.8 L627.5,626.2 L637.5,615 L645,605 L650,592.5 L647.5,582.5 L647.5,572.5 L643.8,566.2 L650,561.2 L660,557.5 L670,558.8 L680,557.5 L687.5,551.2 L692.5,548.8"/>
<path d="M578.8,612.5 L575,620 L573.8,626.2"/>
<path d="M692.5,548.8 L690,556.2 L695,565 L700,571.2 L706.2,577.5 L700,585 L692.5,592.5 L687.5,598.8 L691.2,605 L685,612.5 L675,620 L665,626.2 L657.5,630 L650,633.8 L652.5,640 L647.5,647.5"/>
<path d="M692.5,548.8 L702.5,547.5 L703.8,540 L700,533.8 L705,531.2 L710,531.2"/>
<path d="M718.8,545 L725,555 L733.8,557.5 L740,565 L742.5,572.5 L747.5,582.5"/>
<path d="M718.8,545 L730,542.5 L742.5,543.8 L755,547.5 L765,546.2 L775,542.5 L785,538.8 L796,533.8"/>
<path d="M633.5,331.2 L624.8,340 L628.5,346.2 L624.8,352.5 L628.5,360 L633.5,370 L638.5,378.8 L629.8,387.5 L626,397.5 L619.8,401.2 L613.5,405 L617.2,417.5 L617.2,430 L614.8,436"/>
<path d="M833.5,282 L840.5,287.5 L848,293.8 L843,302.5 L838,311.2 L840.5,317.5 L850.5,320 L855.5,325"/>
<path d="M855.5,325 L861.8,328.8 L873,326.2 L885.5,321.2 L886.8,315 L895.5,308.8 L903,302.5 L913,298.8 L918,298.8 L920.5,307.5 L928,305 L935.5,302.5 L940.5,295 L944.2,285 L954.2,285.5"/>
<path d="M855.5,325 L853,332.5 L845.5,337.5 L841.8,343.8 L843,355 L848,365 L841.8,372.5 L835.5,377.5 L830.5,385 L825.5,390 L824.2,397.5 L829.2,407.5 L833.5,413.8 L834.2,420 L831.8,426"/>
<path d="M885.5,321.2 L891.8,327.5 L898,335 L905.5,341.2 L913,347.5 L919.2,356.2 L921,366.2"/>
<path d="M833.5,413.8 L840.5,412.5 L848,416.2 L851.8,422.5 L850.5,426"/>
<path d="M826.8,420 L825.5,425 L818,430 L810.5,436.2 L809.2,447.5 L813,457.5 L816.8,465 L809.2,473.8 L803,476.2 L800.5,482.5 L791.8,486.2 L790.5,495 L788,502.5 L793,507.5 L791.8,516.2 L798,522.5 L796.8,531.2"/>
<path d="M850.5,420 L851.8,427.5 L858,430 L864.2,435 L866.8,437.5"/>
<path d="M796.8,531.2 L805.5,528.8 L811.8,528.8 L808,537.5 L805.5,545 L803,552.5 L811.8,555 L815.5,558.8 L824.2,552.5 L831.8,545 L836.8,543.8 L840.5,555 L834.2,558.8 L829.2,565 L828,572.5 L823,578.8 L823,590 L830.5,595 L835.5,605"/>
<path d="M835.5,605 L840.5,600 L850.5,598.8 L860.5,600 L866.8,598 L868,605"/>
<path d="M871.8,620 L873,615 L880.5,613.8 L889.2,612.5 L891.8,605 L896.8,600 L893,595 L888,593.8 L890.5,587.5 L895.5,586.2 L899.2,592.5 L905.5,593.8"/>
<path d="M457.5,470 L465,475 L476.2,471.2 L480,478.8 L490,485 L495,492.5"/>
<path d="M428.8,367.5 L425,370 L426.2,377.5 L421.2,380 L422,383.8"/>
<path d="M380,372.5 L390,380 L398.8,384.5 L407.5,383.8 L415,381.2 L421.2,380"/>
<path d="M161.7,463.4 L160.9,469.7 L157.8,475.2 L153.9,479.1 L146.9,482.2 L145.3,486.9 L146.9,493.1 L148.4,497.8 L154.7,499.4 L162.5,500.2 L164.8,500.9"/>
<path d="M164.8,500.9 L170.3,500.9 L176.6,504.1 L178.1,504.8"/>
<path d="M164.8,500.9 L164.1,505.6 L164.8,509.5"/>
<path d="M165.6,519.7 L162.5,524.4 L154.7,529.1 L151.6,532.2 L152.3,536.9 L156.2,541.6"/>
<path d="M125,498.6 L131.2,500.2 L133.6,504.1"/>
<path d="M113.3,532.2 L118.8,533.8 L123.4,536.9 L129.7,538.4 L135.9,536.9 L139.8,532.2"/>
<path d="M123.4,536.9 L121.9,543.1 L125,549.4 L131.2,552.5 L137.5,549.4 L143.8,549.4"/>
<path d="M125,549.4 L120.3,555.6 L121.9,561.9 L128.1,565 L135.9,566.6"/>
<path d="M169.2,357.5 L174.7,355.2 L178.6,348.9 L182.5,351.2 L187.2,355.2 L193.4,357.5 L199.7,356.7 L205.2,355.2 L210.6,359.8 L215.3,363 L220,365.3 L224.7,368.4 L223.9,372.3 L229.4,374.7 L234,377 L236.4,381.7 L238.8,385.6 L243.4,388.8 L248,387.2 L252.8,389.5 L256.7,393.4 L259,398 L260.6,402.8 L266,405.2 L270,409 L266.9,412.2 L260.6,413.8 L254.4,415.3 L248,413.8 L241.9,412.2 L235.6,413.8 L229.4,416.9 L223,420 L216.9,421.6 L211.4,423 L210.6,427.8 L207.5,431.7 L202.8,434 L199.7,437.2 L196.6,441.9 L195,448 L190.3,452 L185.6,454.4 L181.7,456 L180.2,460.6 L174.7,459 L166.9,457.5 L162.2,461.4 L159,463.8 L152.8,461.4 L148.9,457.5 L148,451.2 L145.8,445 L141.9,438.8 L138.8,432.5 L135.6,427.8 L134.8,423 L139.5,420 L140.3,413.8 L139.5,409 L140.3,396.5 L135.6,390.3 L134.8,387.2 L140.3,383.3 L141.9,378.6 L144.2,381.7 L150.5,382.5 L153.6,377.8 L153.6,371.6 L156.7,366.9 L159,362.2 L165.3,359Z"/>
<path d="M114.8,469.7 L118.8,466.5 L125,467.3 L131.2,471.2 L137.5,468 L140.6,465 L146.9,463.4 L152.8,461.4 L159,463.8 L162.2,461.4 L166.9,457.5 L174.7,459 L180.2,460.6 L184.4,469.7 L187.5,474.4 L190.6,480.6 L192.2,485.3 L195.3,490 L196,494 L192.2,496.2 L187.5,498.6 L184.4,501.7 L181.2,504 L178,505 L175,502.5 L168.8,501 L170,510 L173.4,521.2 L177.3,526 L178,531.4 L176.5,535.3 L171.9,537.6 L171,541.5 L173.4,544.7 L171.9,547.8 L165.6,547.8 L159.4,546.2 L156.2,544.7 L153,543 L148.4,541.5 L143.8,537.6 L139.8,532.2 L137.5,524.4 L136.7,519.7 L134.4,505.6 L131.2,501 L125,498.6 L120.3,494.7 L120.3,486.9 L118,479 L114.8,474.4Z"/>
<path d="M100,470 L113.3,477.5 L118,479 L120.3,486.9 L120.3,494.7 L125,498.6 L131.2,501 L134.4,505.6 L136.7,519.7 L137.5,524.4 L139.8,532.2 L143.8,537.6 L148.4,541.5 L146.9,546.2 L143.8,549.4 L145.3,554 L146.9,558.8 L142.2,560.3 L138.3,563.4 L136,566.5 L135.2,571.2 L134.4,576 L131.2,579 L125.8,580.6 L120.3,581.4 L118.8,577.5 L119.5,572.8 L118,568 L114.8,563.4 L115.6,558.8 L111,554 L108.6,549.4 L106.2,544.7 L107,540 L104.7,535.3 L103,533 L100,530Z"/>
<path d="M497.5,349.5 L498.8,360 L502.5,363.8 L498.8,370 L500,380 L491,385 L490,388.8 L495,395 L501,397.5 L503.8,405 L500,413.8 L496.5,420 L498.8,430 L497.5,440 L500,452.5 L506.2,457.5 L505,467.5 L500,473.8 L498.8,480 L492.5,487.5 L496.2,493.8 L498.8,500 L490,502.5 L487.5,506.2 L480,502.5 L475,505 L465,500 L457.5,497.5 L450,496.2 L445,493 L440,500 L435,506.2 L427.5,511.2 L423.8,515 L415,516.2 L407.5,513.8 L400,511.2 L397.5,506.2 L393.8,508.8 L391.2,516.2 L392.5,522.5 L390,528.8 L385,532.5 L381.2,537.5 L378.8,541.2"/>
</g>
<rect x="10.2" y="390.6" width="102.6" height="142.2" fill="#e6e6e8"/>
<circle cx="32" cy="412" r="9" fill="#d3e9f0"/>
<text class="lg" x="48" y="417" textLength="37.8" lengthAdjust="spacingAndGlyphs">&lt; 230</text>
<circle cx="32" cy="437" r="9" fill="#bcdcea"/>
<text class="lg" x="48" y="442" textLength="58" lengthAdjust="spacingAndGlyphs">231- 240</text>
<circle cx="32" cy="462.3" r="9" fill="#9cc6de"/>
<text class="lg" x="48" y="467.3" textLength="54.7" lengthAdjust="spacingAndGlyphs">241-250</text>
<circle cx="32" cy="487.3" r="9" fill="#6fb1d4"/>
<text class="lg" x="48" y="492.3" textLength="54.7" lengthAdjust="spacingAndGlyphs">251-260</text>
<circle cx="32" cy="512.8" r="9" fill="#3585be"/>
<text class="lg" x="48" y="517.8" textLength="34.4" lengthAdjust="spacingAndGlyphs">&gt; 261</text>
<text class="lab" x="232.5" y="338" textLength="67.5" lengthAdjust="spacingAndGlyphs">Северо-</text>
<text class="lab" x="232.5" y="358" textLength="128.5" lengthAdjust="spacingAndGlyphs">Западный ФО</text>
<text class="lab" x="140.2" y="411.1" textLength="132" lengthAdjust="spacingAndGlyphs">Центральный</text>
<text class="lab" x="140.2" y="428.3">ФО</text>
<text class="lab" x="376.2" y="440.3" textLength="101.5" lengthAdjust="spacingAndGlyphs">Уральский</text>
<text class="lab" x="376.2" y="464.2">ФО</text>
<text class="lab" x="193.6" y="463.75" textLength="132.8" lengthAdjust="spacingAndGlyphs">Приволжский</text>
<text class="lab" x="193.6" y="486">ФО</text>
<text class="lab" x="136.9" y="517.7" textLength="109" lengthAdjust="spacingAndGlyphs">Южный ФО</text>
<text class="lab" x="124.7" y="555.2" textLength="67.2" lengthAdjust="spacingAndGlyphs">Северо-</text>
<text class="lab" x="124.7" y="574.4" textLength="143.1" lengthAdjust="spacingAndGlyphs">Кавказский ФО</text>
<text class="lab" x="677" y="437.3" textLength="172" lengthAdjust="spacingAndGlyphs">Дальневосточный</text>
<text class="lab" x="677" y="460.5">ФО</text>
<text class="lab" x="507.2" y="553.75" textLength="136.2" lengthAdjust="spacingAndGlyphs">Сибирский ФО</text>
<text class="t" x="511.8" y="749.5" font-size="33.5" text-anchor="middle" fill="#0a0a0a" textLength="426" lengthAdjust="spacingAndGlyphs">ПЕРЕМЕНЫ ЗА 10 ЛЕТ</text>
<text class="i" x="512" y="779.7" font-size="22" text-anchor="middle" fill="#0a0a0a" textLength="394" lengthAdjust="spacingAndGlyphs">по федеральным округам, 2007-2017</text>
<rect x="57.5" y="977.505" width="27" height="179.995" fill="#f0b491"/>
<rect x="94.5" y="963.004" width="27" height="194.496" fill="#dd6824"/>
<text class="val" x="71" y="970.505">215</text>
<text class="val" x="108.5" y="956.004">232</text>
<text class="yr" x="66.75" y="1173" fill="#f0b491" stroke="#f0b491" stroke-width=".4" textLength="37.5" lengthAdjust="spacingAndGlyphs">2007</text>
<text class="yr b" x="108.75" y="1173" fill="#dd6824" textLength="33.5" lengthAdjust="spacingAndGlyphs">2017</text>
<circle cx="88.75" cy="872.55" r="36.3" fill="#9cc6de"/>
<path fill="#9cc6de" d="M81.75,905.55 L96.15,905.55 L89.05,917.35 Z"/>
<text class="pct" x="89.25" y="880.15" textLength="64.5" lengthAdjust="spacingAndGlyphs">+6,69%</text>
<text class="dl" x="99.5" y="1202" textLength="113.5" lengthAdjust="spacingAndGlyphs">Центральный</text>
<rect x="178" y="973.24" width="27" height="184.26" fill="#f0b491"/>
<rect x="215" y="945.091" width="27" height="212.409" fill="#dd6824"/>
<text class="val" x="191.5" y="966.24">220</text>
<text class="val" x="229" y="938.091">253</text>
<text class="yr" x="190.25" y="1173" fill="#f0b491" stroke="#f0b491" stroke-width=".4" textLength="37.5" lengthAdjust="spacingAndGlyphs">2007</text>
<text class="yr b" x="233" y="1173" fill="#dd6824" textLength="33.5" lengthAdjust="spacingAndGlyphs">2017</text>
<circle cx="206.25" cy="872.55" r="36.3" fill="#9cc6de"/>
<path fill="#9cc6de" d="M199.25,905.55 L213.65,905.55 L206.55,917.35 Z"/>
<text class="pct" x="206.75" y="880.15" textLength="59.5" lengthAdjust="spacingAndGlyphs">+17,8%</text>
<text class="dl" x="223" y="1202" textLength="57.5" lengthAdjust="spacingAndGlyphs">Северо-</text>
<text class="dl" x="223" y="1218.5" textLength="82.5" lengthAdjust="spacingAndGlyphs">Западный</text>
<rect x="298.5" y="964.71" width="27" height="192.79" fill="#f0b491"/>
<rect x="335.5" y="953.621" width="27" height="203.879" fill="#dd6824"/>
<text class="val" x="312" y="957.71">230</text>
<text class="val" x="349.5" y="946.621">243</text>
<text class="yr" x="310.25" y="1173" fill="#f0b491" stroke="#f0b491" stroke-width=".4" textLength="37.5" lengthAdjust="spacingAndGlyphs">2007</text>
<text class="yr b" x="352.75" y="1173" fill="#dd6824" textLength="33.5" lengthAdjust="spacingAndGlyphs">2017</text>
<circle cx="324.75" cy="872.55" r="36.3" fill="#9cc6de"/>
<path fill="#9cc6de" d="M317.75,905.55 L332.15,905.55 L325.05,917.35 Z"/>
<text class="pct" x="325.25" y="880.15" textLength="61" lengthAdjust="spacingAndGlyphs">+1,91%</text>
<text class="dl" x="339.5" y="1202" textLength="66" lengthAdjust="spacingAndGlyphs">Южный</text>
<rect x="419" y="981.77" width="27" height="175.73" fill="#f0b491"/>
<rect x="456" y="986.888" width="27" height="170.612" fill="#dd6824"/>
<text class="val" x="432.5" y="974.77">210</text>
<text class="val" x="470" y="979.888">204</text>
<text class="yr" x="431.25" y="1173" fill="#f0b491" stroke="#f0b491" stroke-width=".4" textLength="37.5" lengthAdjust="spacingAndGlyphs">2007</text>
<text class="yr b" x="473" y="1173" fill="#dd6824" textLength="33.5" lengthAdjust="spacingAndGlyphs">2017</text>
<circle cx="453.25" cy="902.05" r="36.3" fill="#9cc6de"/>
<path fill="#9cc6de" d="M446.25,935.05 L460.65,935.05 L453.55,946.85 Z"/>
<text class="pct" x="453.75" y="909.65" textLength="61.5" lengthAdjust="spacingAndGlyphs">-6,89%</text>
<text class="dl" x="466" y="1202" textLength="57.5" lengthAdjust="spacingAndGlyphs">Северо-</text>
<text class="dl" x="466" y="1218.5" textLength="94" lengthAdjust="spacingAndGlyphs">Кавказский</text>
<rect x="539.5" y="978.358" width="27" height="179.142" fill="#f0b491"/>
<rect x="576.5" y="946.797" width="27" height="210.703" fill="#dd6824"/>
<text class="val" x="553" y="971.358">214</text>
<text class="val" x="590.5" y="939.797">251</text>
<text class="yr" x="550.75" y="1173" fill="#f0b491" stroke="#f0b491" stroke-width=".4" textLength="37.5" lengthAdjust="spacingAndGlyphs">2007</text>
<text class="yr b" x="591.9" y="1173" fill="#dd6824" textLength="33.5" lengthAdjust="spacingAndGlyphs">2017</text>
<circle cx="567.75" cy="883.55" r="36.3" fill="#9cc6de"/>
<path fill="#9cc6de" d="M560.75,916.55 L575.15,916.55 L568.05,928.35 Z"/>
<text class="pct" x="568.25" y="891.15" textLength="63" lengthAdjust="spacingAndGlyphs">+16,8%</text>
<text class="dl" x="585" y="1214.5" textLength="114" lengthAdjust="spacingAndGlyphs">Приволжский</text>
<rect x="660" y="963.004" width="27" height="194.496" fill="#f0b491"/>
<rect x="697" y="940.826" width="27" height="216.674" fill="#dd6824"/>
<text class="val" x="673.5" y="956.004">232</text>
<text class="val" x="711" y="933.826">258</text>
<text class="yr" x="673" y="1173" fill="#f0b491" stroke="#f0b491" stroke-width=".4" textLength="37.5" lengthAdjust="spacingAndGlyphs">2007</text>
<text class="yr b" x="714.1" y="1173" fill="#dd6824" textLength="33.5" lengthAdjust="spacingAndGlyphs">2017</text>
<circle cx="690.5" cy="858.55" r="36.3" fill="#9cc6de"/>
<path fill="#9cc6de" d="M683.5,891.55 L697.9,891.55 L690.8,903.35 Z"/>
<text class="pct" x="691" y="866.15" textLength="59.5" lengthAdjust="spacingAndGlyphs">+11,2%</text>
<text class="dl" x="703" y="1202" textLength="86" lengthAdjust="spacingAndGlyphs">Уральский</text>
<rect x="780.5" y="957.033" width="27" height="200.467" fill="#f0b491"/>
<rect x="817.5" y="923.766" width="27" height="233.734" fill="#dd6824"/>
<text class="val" x="794" y="950.033">239</text>
<text class="val" x="831.5" y="916.766">278</text>
<text class="yr" x="792.25" y="1173" fill="#f0b491" stroke="#f0b491" stroke-width=".4" textLength="37.5" lengthAdjust="spacingAndGlyphs">2007</text>
<text class="yr b" x="833.75" y="1173" fill="#dd6824" textLength="33.5" lengthAdjust="spacingAndGlyphs"><tspan fill="#f0b491">2</tspan>017</text>
<circle cx="810.5" cy="858.55" r="36.3" fill="#9cc6de"/>
<path fill="#9cc6de" d="M803.5,891.55 L817.9,891.55 L810.8,903.35 Z"/>
<text class="pct" x="811" y="866.15" textLength="59" lengthAdjust="spacingAndGlyphs">+17,6%</text>
<text class="dl" x="817" y="1202" textLength="90" lengthAdjust="spacingAndGlyphs">Сибирский</text>
<rect x="901" y="964.71" width="27" height="192.79" fill="#f0b491"/>
<rect x="938" y="936.561" width="27" height="220.939" fill="#dd6824"/>
<text class="val" x="914.5" y="957.71">230</text>
<text class="val" x="952" y="929.561">263</text>
<text class="yr" x="912.75" y="1173" fill="#f0b491" stroke="#f0b491" stroke-width=".4" textLength="37.5" lengthAdjust="spacingAndGlyphs">2007</text>
<text class="yr b" x="954.25" y="1173" fill="#dd6824" textLength="33.5" lengthAdjust="spacingAndGlyphs">2017</text>
<circle cx="930" cy="858.55" r="36.3" fill="#9cc6de"/>
<path fill="#9cc6de" d="M923,891.55 L937.4,891.55 L930.3,903.35 Z"/>
<text class="pct" x="930.5" y="866.15" textLength="46" lengthAdjust="spacingAndGlyphs">+15%</text>
<text class="dl" x="938.5" y="1202" textLength="62.5" lengthAdjust="spacingAndGlyphs">Дальне-</text>
<text class="dl" x="938.5" y="1218.5" textLength="88.5" lengthAdjust="spacingAndGlyphs">восточный</text>
<text class="i" x="48.75" y="1314.4" font-size="18" fill="#0a0a0a" textLength="215" lengthAdjust="spacingAndGlyphs">Источник: ONCOLOGY.ru</text>
<g transform="translate(864 1260) scale(0.15625)" fill="#ee7623">
<path d="M226,277 L305,277 L298,300 L232,300 Z"/><path d="M236,307 L283,307 L240,393 Z"/>
<path d="M176,163 C195,170 238,176 259,212 C250,185 248,160 262,130 C268,160 294,185 289,228 C298,212 318,203 345,205 C325,222 305,250 286,272 L254,272 C250,250 225,236 205,219 C188,204 180,185 176,163 Z"/>
</g>
<text class="sans" x="920.2" y="1302.6" font-size="12.8" fill="#4f6a7c" stroke="#4f6a7c" stroke-width=".3" textLength="41.5" lengthAdjust="spacingAndGlyphs">Радио</text>
<text class="sans" x="920.2" y="1316.6" font-size="12.8" fill="#4f6a7c" stroke="#4f6a7c" stroke-width=".3" textLength="56" lengthAdjust="spacingAndGlyphs">Свобода</text>
<rect x="940" y="1348.7" width="84" height="16.3" fill="#000"/>
<text class="sans" x="944" y="1360" font-size="9.5" fill="#fff" textLength="76" lengthAdjust="spacingAndGlyphs">RFE/RL Graphics</text>
</svg></body></html>
